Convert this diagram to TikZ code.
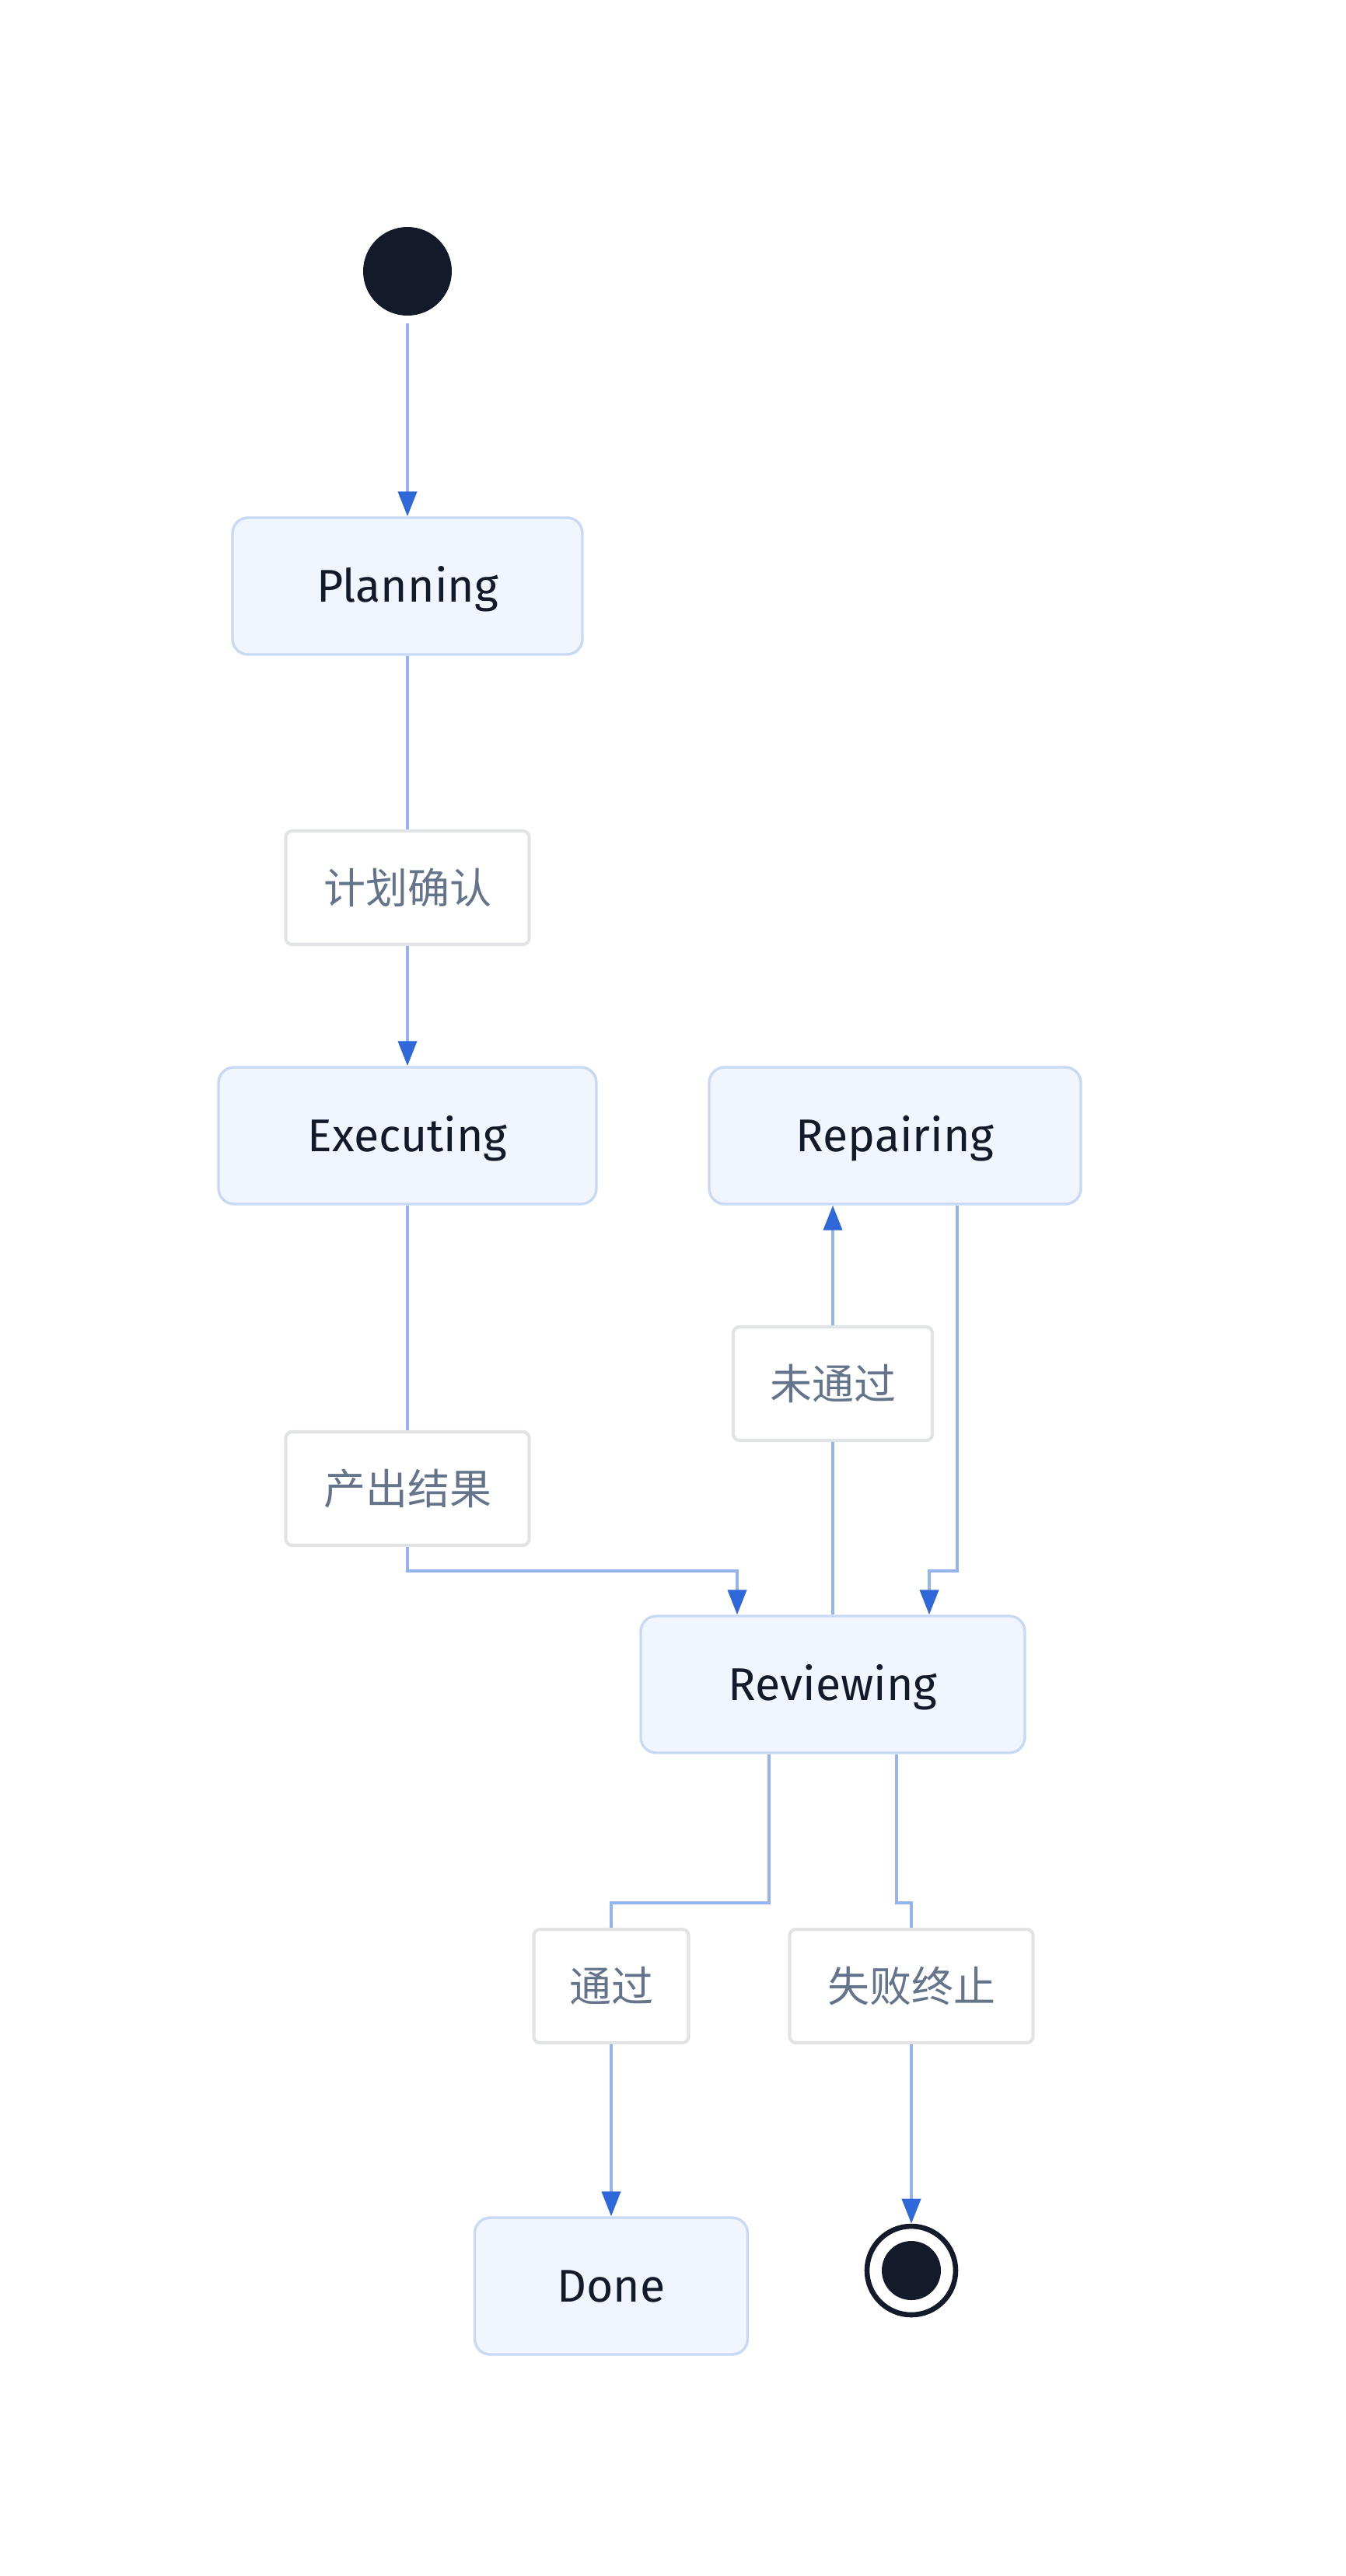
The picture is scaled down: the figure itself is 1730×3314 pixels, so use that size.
\documentclass[tikz,border=0pt]{standalone}
\usepackage{fontspec}
\setmainfont{Fira Sans}
\newfontfamily\cjk{Noto Sans CJK SC}
\usetikzlibrary{arrows.meta}
\definecolor{edgec}{HTML}{93B4EE}
\definecolor{tipc}{HTML}{2F69D9}
\definecolor{sfill}{HTML}{F0F5FE}
\definecolor{sborder}{HTML}{C8D9F3}
\definecolor{lborder}{HTML}{E2E3E5}
\definecolor{ltext}{HTML}{64748B}
\definecolor{darkc}{HTML}{131A29}
\begin{document}
\begin{tikzpicture}[x=0.5pt,y=-0.5pt,
 state/.style={draw=sborder, fill=sfill, line width=1.7pt, rounded corners=10pt, minimum height=88pt, text=darkc, font=\fontsize{29.5}{34}\selectfont, inner sep=0pt, text height=20.5pt, text depth=0pt},
 lbl/.style={draw=lborder, fill=white, line width=2.1pt, rounded corners=4pt, minimum height=73pt, text=ltext, font=\cjk\fontsize{27}{31}\selectfont, inner sep=0pt, text height=23.8pt, text depth=3.2pt},
 conn/.style={draw=edgec, line width=2pt},
 arr/.style={conn, -{Triangle[length=16pt,width=12pt,color=tipc]}}
]
\useasboundingbox (0,0) rectangle (1730,3314);
% nodes
\node[circle, fill=darkc, minimum size=57pt, inner sep=0pt] (start) at (524,349) {};
\node[state, minimum width=225pt] (plan) at (524,754) {Planning};
\node[lbl, minimum width=156.5pt] (l1) at (524,1142) {计划确认};
\node[state, minimum width=243pt] (exec) at (524,1461) {Executing};
\node[state, minimum width=239pt] (rep) at (1151,1461) {Repairing};
\node[lbl, minimum width=128pt] (l3) at (1071,1780) {未通过};
\node[lbl, minimum width=156.5pt] (l2) at (524,1915) {产出结果};
\node[state, minimum width=247pt] (rev) at (1071,2167) {Reviewing};
\node[lbl, minimum width=99.5pt] (l4) at (786,2555) {通过};
\node[lbl, minimum width=156.5pt] (l5) at (1172,2555) {失败终止};
\node[state, minimum width=175.5pt] (done) at (786,2941) {Done};
\node[circle, draw=darkc, line width=3.3pt, minimum size=57pt, inner sep=0pt] (endo) at (1172,2921) {};
\node[circle, fill=darkc, minimum size=38pt, inner sep=0pt] (endi) at (endo.center) {};
% helper coordinates
\coordinate (j1) at (948,2021);
\coordinate (a1) at (1231,2021);
\coordinate (a2) at (1195,2021);
\coordinate (b1) at (989,2448);
\coordinate (b2) at (786,2448);
\coordinate (c1) at (1153,2448);
\coordinate (c2) at (1172,2448);
% connectors
\draw[arr, shorten <=5pt] (start) -- (plan);
\draw[conn] (plan) -- (l1);
\draw[arr] (l1) -- (exec);
\draw[conn] (exec) -- (l2);
\draw[arr] (l2.south) |- (j1) -- (j1 |- rev.north);
\draw[conn] (rev.north) -- (l3.south);
\draw[arr] (l3.north) -- (l3.north |- rep.south);
\draw[arr] (a1 |- rep.south) -- (a1) -- (a2) -- (a2 |- rev.north);
\draw[conn] (b1 |- rev.south) -- (b1) -- (b2) -- (l4.north);
\draw[arr] (l4) -- (done);
\draw[conn] (c1 |- rev.south) -- (c1) -- (c2) -- (l5.north);
\draw[arr] (l5) -- (endo);
\end{tikzpicture}
\end{document}
